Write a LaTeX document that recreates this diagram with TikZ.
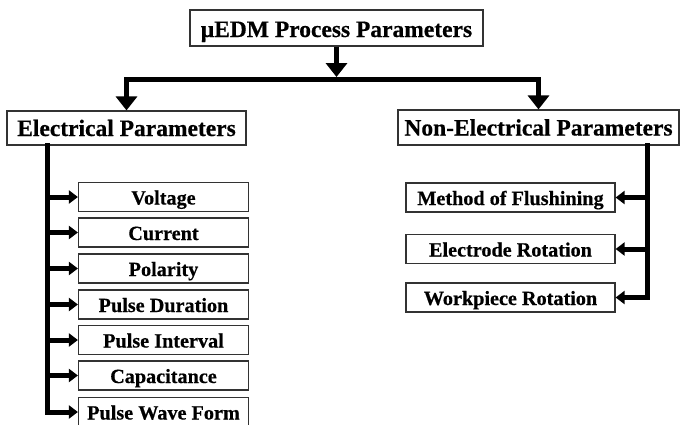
\documentclass[tikz,border=0pt]{standalone}
\usepackage{fontspec}
\setmainfont{Liberation Serif}
\newfontfamily\hb[FakeBold=0.5]{Liberation Serif Bold}
\usetikzlibrary{arrows.meta}
\begin{document}
\begin{tikzpicture}[x=1pt,y=-1pt,
  box/.style={draw=black!80,line width=1.2pt,fill=white,inner sep=0pt},
  bigbox/.style={box,font=\fontsize{23.5}{26}\hb,text depth=0pt},
  smallbox/.style={box,font=\fontsize{20.2}{22}\hb,text height=15pt,text depth=0pt},
  trunk/.style={line width=5pt,line cap=rect},
  bigarrow/.style={line width=5pt,-{Triangle[width=21pt,length=14pt]}},
  smallarrow/.style={line width=5pt,-{Triangle[width=13pt,length=9pt]}}]
\useasboundingbox (0,0) rectangle (680,424);
% headers
\node[bigbox,text height=18pt,minimum width=293pt,minimum height=36pt] (top) at (336.5,28) {μEDM Process Parameters};
\node[bigbox,text height=16pt,minimum width=239pt,minimum height=34pt] (elec) at (126.5,128) {Electrical Parameters};
\node[bigbox,text height=16pt,minimum width=281pt,minimum height=35pt] (nelec) at (538.5,127.5) {Non-Electrical Parameters};
% left items
\foreach \n/\t/\y in {v/Voltage/197, c/Current/232.5, p/Polarity/268.5, pd/Pulse Duration/304.5, pi/Pulse Interval/340, cap/Capacitance/375.5, pw/Pulse Wave Form/412}
  \node[smallbox,minimum width=170pt,minimum height=29pt] (\n) at (163.5,\y) {\t};
% right items
\foreach \n/\t/\y in {mf/Method of Flushining/197.5, er/Electrode Rotation/249, wr/Workpiece Rotation/297.5}
  \node[smallbox,minimum width=209pt,minimum height=29pt] (\n) at (510.5,\y) {\t};
% top connectors
\coordinate (bar) at (337,79);
\draw[bigarrow] (top.south) -- (top.south |- 0,77);
\draw[trunk] (elec.north |- bar) -- (nelec.north |- bar);
\draw[bigarrow] (elec.north |- bar) -- (elec.north);
\draw[bigarrow] (nelec.north |- bar) -- (nelec.north);
% left trunk
\coordinate (lt) at (47,145);
\draw[trunk] (lt) -- (lt |- pw.west);
\foreach \n in {v,c,p,pd,pi,cap,pw}
  \draw[smallarrow] (lt |- \n.west) -- (\n.west);
% right trunk
\coordinate (rt) at (647,145);
\draw[trunk] (rt) -- (rt |- wr.east);
\foreach \n in {mf,er,wr}
  \draw[smallarrow] (rt |- \n.east) -- (\n.east);
\end{tikzpicture}
\end{document}
